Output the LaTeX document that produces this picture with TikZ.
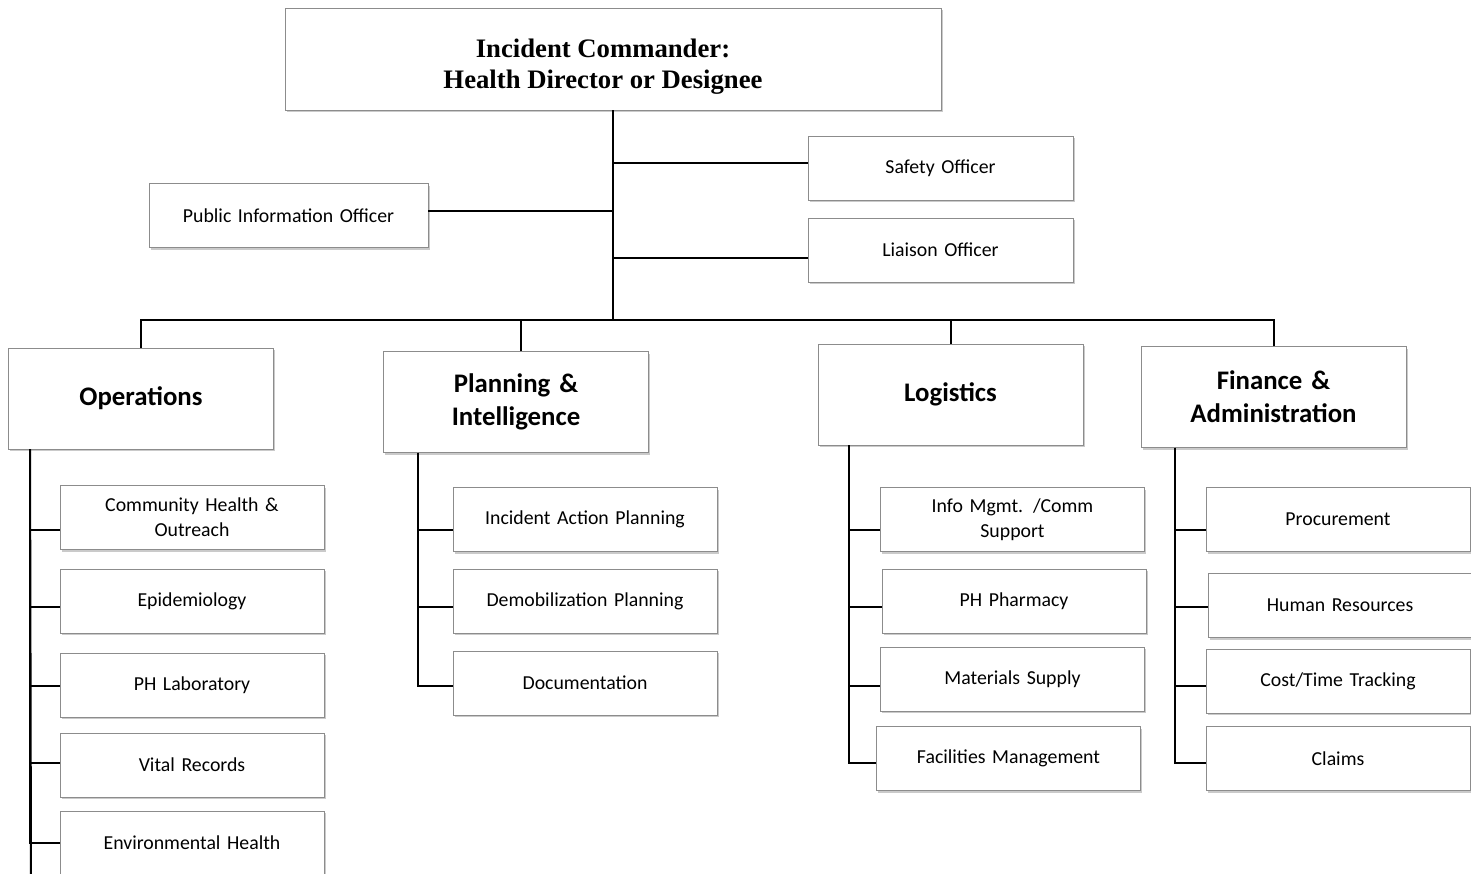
\documentclass[tikz,border=0pt]{standalone}
\usepackage{fontspec}
\setmainfont{Carlito}
\newfontfamily\titlefont{Liberation Serif}
\usetikzlibrary{shadows}
\begin{document}
\begin{tikzpicture}[x=1pt,y=-1pt,
  box/.style={draw=black!45, line width=0.9pt, fill=white, inner sep=2pt, align=center,
    drop shadow={shadow xshift=1.5pt, shadow yshift=-2pt, opacity=0.35, fill=black!60}},
  small/.style={box, minimum width=264pt, minimum height=64pt, font=\fontsize{19.8}{25}\selectfont, text width=255pt},
  head/.style={box, minimum width=265pt, minimum height=101pt, font=\fontsize{26.8}{33}\selectfont\bfseries, text width=255pt},
  conn/.style={draw=black, line width=2pt}]
\useasboundingbox (0,0) rectangle (1471,873);
% top
\node[box, minimum width=656pt, minimum height=102pt] (ic) at (613,59) {};
\node[align=center, font=\titlefont\fontsize{26.7}{31}\selectfont\bfseries] (ictext) at (603,67) {Incident Commander:\\Health Director or Designee};
\node[small, minimum width=265pt] (safety) at (940.5,168) {Safety Officer};
\node[small, minimum width=265pt] (liaison) at (940.5,250) {Liaison Officer};
\node[small, minimum width=279pt] (pio) at (288.5,215.5) {Public Information Officer};
% sections
\node[head] (ops) at (141,398.5) {Operations};
\node[head] (plan) at (516,402) {Planning \&\\Intelligence};
\node[head] (log) at (950.5,394.5) {Logistics};
\node[head] (fin) at (1273.5,397) {Finance \&\\Administration};
% ops children
\node[small] (ch) at (192,517.5) {Community Health \&\\Outreach};
\node[small] (epi) at (192,601) {Epidemiology};
\node[small] (lab) at (192,685) {PH Laboratory};
\node[small] (vr) at (192,765) {Vital Records};
\node[small] (env) at (192,843) {Environmental Health};
% planning children
\node[small] (iap) at (585,519.5) {Incident Action Planning};
\node[small] (demob) at (585,601) {Demobilization Planning};
\node[small] (doc) at (585,683) {Documentation};
% logistics children
\node[small] (info) at (1012.5,519.5) {Info Mgmt. /Comm\\Support};
\node[small] (pharm) at (1014,601) {PH Pharmacy};
\node[small] (mat) at (1012.5,679) {Materials Supply};
\node[small] (fac) at (1008.5,758.5) {Facilities Management};
% finance children
\node[small] (proc) at (1338,519.5) {Procurement};
\node[small] (hr) at (1340,605.5) {Human Resources};
\node[small] (cost) at (1338,681) {Cost/Time Tracking};
\node[small] (claims) at (1338,758.5) {Claims};
% row levels of the branch lines
\coordinate (r1) at (0,530);
\coordinate (r2) at (0,607);
\coordinate (r3) at (0,686);
\coordinate (r4) at (0,763);
\coordinate (r5) at (0,843);
% connectors top
\coordinate (bus) at (613,320);
\draw[conn] (ic.south) -- (bus);
\draw[conn] (safety.west) ++(0,-5) -- (ic.south |- 0,163);
\draw[conn] (liaison.west) ++(0,8) -- (ic.south |- 0,258);
\draw[conn] (pio.east) ++(0,-4.5) -- (ic.south |- 0,211);
\draw[conn] (ops.north) |- (bus);
\draw[conn] (plan.north) ++(5,0) |- (bus);
\draw[conn] (log.north) |- (bus);
\draw[conn] (fin.north) |- (bus);
% ops
\coordinate (opsV) at ([xshift=22pt]ops.south west);
\coordinate (opsEnd) at (31,880);
\draw[conn] (opsV) -- (opsEnd);
\draw[conn] (opsV) |- (ch.west |- r1);
\draw[conn] (opsV) |- (epi.west |- r2);
\draw[conn] (opsV) |- (lab.west |- r3);
\draw[conn] (opsV) |- (vr.west |- r4);
\draw[conn] (opsV) |- (env.west |- r5);
% planning
\coordinate (planV) at ([xshift=35pt]plan.south west);
\draw[conn] (planV) |- (iap.west |- r1);
\draw[conn] (planV) |- (demob.west |- r2);
\draw[conn] (planV) |- (doc.west |- r3);
% logistics
\coordinate (logV) at ([xshift=31pt]log.south west);
\draw[conn] (logV) |- (info.west |- r1);
\draw[conn] (logV) |- (pharm.west |- r2);
\draw[conn] (logV) |- (mat.west |- r3);
\draw[conn] (logV) |- (fac.west |- r4);
% finance
\coordinate (finV) at ([xshift=34pt]fin.south west);
\draw[conn] (finV) |- (proc.west |- r1);
\draw[conn] (finV) |- (hr.west |- r2);
\draw[conn] (finV) |- (cost.west |- r3);
\draw[conn] (finV) |- (claims.west |- r4);
\end{tikzpicture}
\end{document}
